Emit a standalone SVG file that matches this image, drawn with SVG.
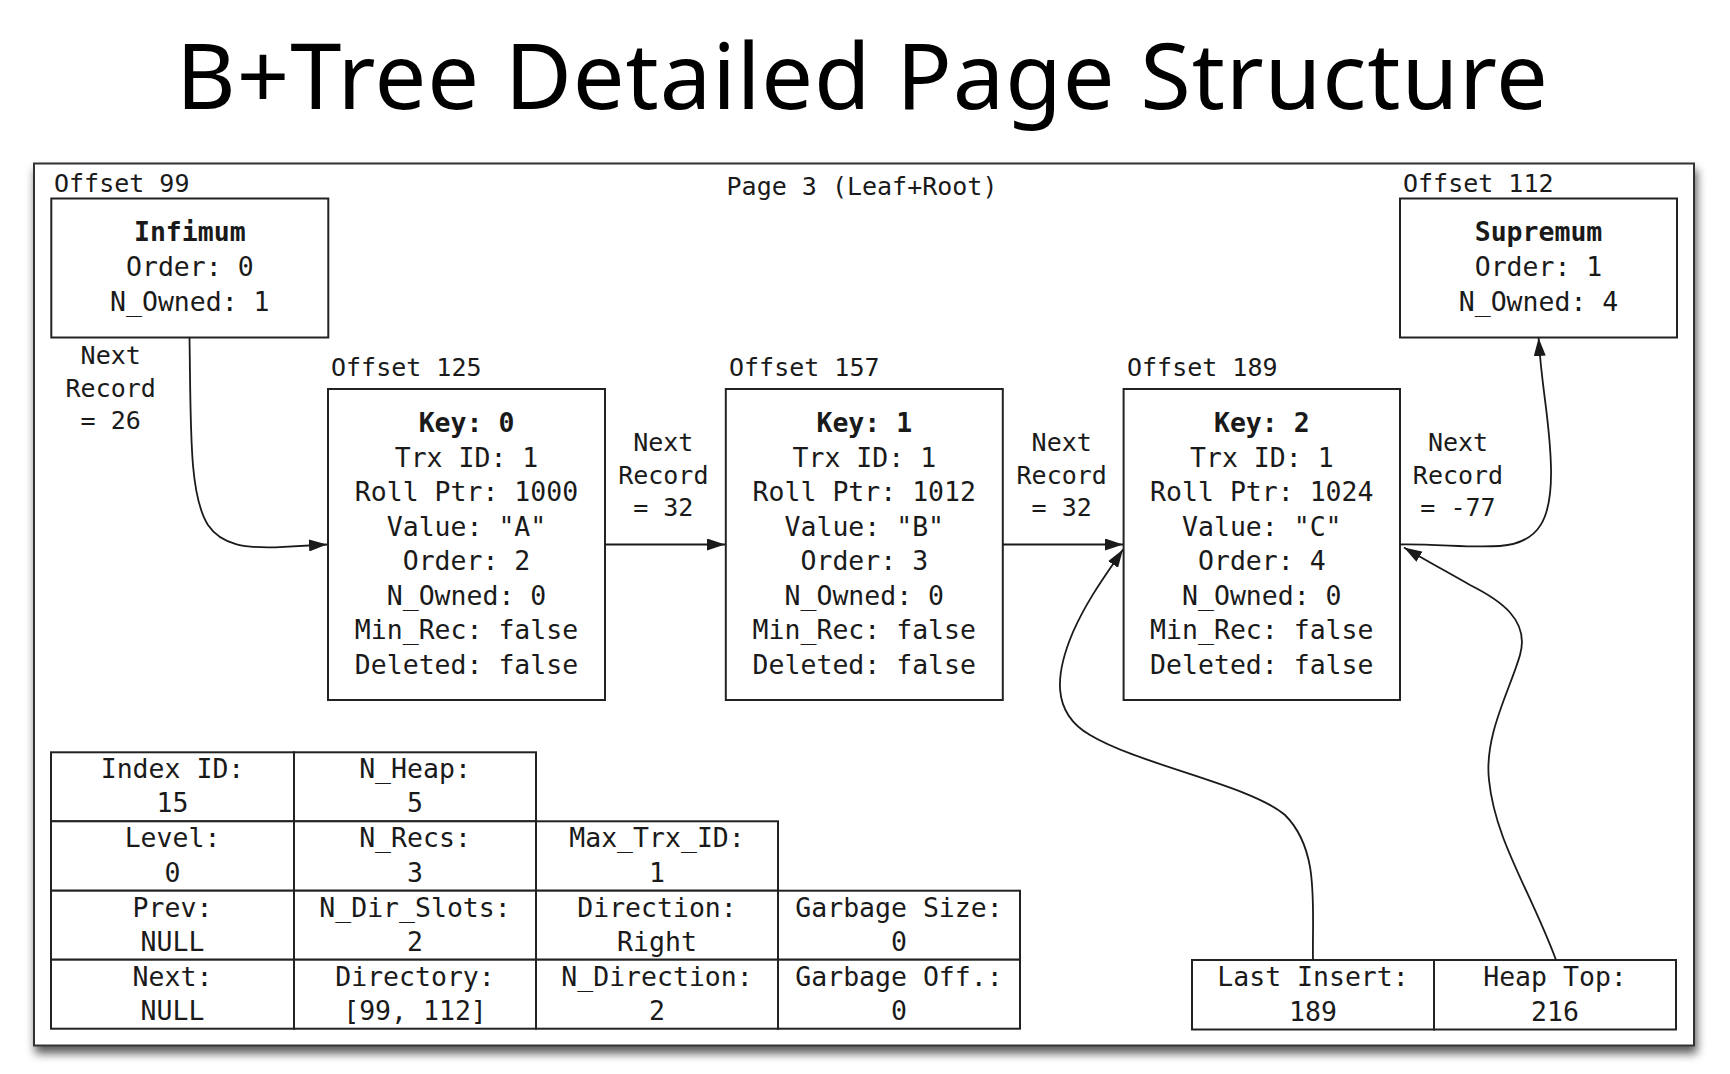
<svg xmlns="http://www.w3.org/2000/svg" width="1730" height="1074" viewBox="0 0 1730 1074">
<style>
.box{fill:#fff;stroke:#222;stroke-width:2}
.cell{fill:#fff;stroke:#222;stroke-width:2}
.t{font-family:"DejaVu Sans Mono","Liberation Mono",monospace;font-size:26.5px;fill:#1a1a1a;text-anchor:middle}
.b{font-weight:bold}
.lbl{font-family:"DejaVu Sans Mono","Liberation Mono",monospace;font-size:25px;fill:#1a1a1a;text-anchor:middle}
.off{font-family:"DejaVu Sans Mono","Liberation Mono",monospace;font-size:25px;fill:#1a1a1a}
.edge{fill:none;stroke:#1a1a1a;stroke-width:1.8}
</style>
<defs>
<marker id="arr" markerUnits="userSpaceOnUse" markerWidth="18" markerHeight="12" refX="18" refY="6" orient="auto">
<path d="M0,0 L18,6 L0,12 z" fill="#1a1a1a"/>
</marker>
<filter id="sh" x="-5%" y="-5%" width="110%" height="115%">
<feDropShadow dx="2" dy="7" stdDeviation="5" flood-color="#000" flood-opacity="0.65"/>
</filter>
</defs>
<rect width="1730" height="1074" fill="#fff"/>
<text x="176" y="108.7" font-family="'Noto Sans','Open Sans','DejaVu Sans',sans-serif" font-size="92" fill="#000" textLength="1372" lengthAdjust="spacing">B+Tree Detailed Page Structure</text>

<g id="page">
<rect x="34" y="163.5" width="1660" height="882" fill="#fff" stroke="#333" stroke-width="2" filter="url(#sh)"/>
<text class="lbl" x="862" y="195">Page 3 (Leaf+Root)</text>
</g>

<g id="infimum">
<text class="off" x="54" y="191.5">Offset 99</text>
<rect class="box" x="51.3" y="198.5" width="277" height="139"/>
<text class="t b" x="189.8" y="241">Infimum</text>
<text class="t" x="189.8" y="276">Order: 0</text>
<text class="t" x="189.8" y="311">N_Owned: 1</text>
</g>

<g id="supremum">
<text class="off" x="1403" y="191.5">Offset 112</text>
<rect class="box" x="1400" y="198.5" width="277" height="139"/>
<text class="t b" x="1538.5" y="241">Supremum</text>
<text class="t" x="1538.5" y="276">Order: 1</text>
<text class="t" x="1538.5" y="311">N_Owned: 4</text>
</g>

<g id="rec0">
<text class="off" x="331" y="376">Offset 125</text>
<rect class="box" x="328" y="389" width="277" height="311"/>
<text class="t b" x="466.5" y="432">Key: 0</text>
<text class="t" x="466.5" y="466.5">Trx ID: 1</text>
<text class="t" x="466.5" y="501">Roll Ptr: 1000</text>
<text class="t" x="466.5" y="535.5">Value: "A"</text>
<text class="t" x="466.5" y="570">Order: 2</text>
<text class="t" x="466.5" y="604.5">N_Owned: 0</text>
<text class="t" x="466.5" y="639">Min_Rec: false</text>
<text class="t" x="466.5" y="673.5">Deleted: false</text>
</g>

<g id="rec1">
<text class="off" x="729" y="376">Offset 157</text>
<rect class="box" x="725.8" y="389" width="277" height="311"/>
<text class="t b" x="864.3" y="432">Key: 1</text>
<text class="t" x="864.3" y="466.5">Trx ID: 1</text>
<text class="t" x="864.3" y="501">Roll Ptr: 1012</text>
<text class="t" x="864.3" y="535.5">Value: "B"</text>
<text class="t" x="864.3" y="570">Order: 3</text>
<text class="t" x="864.3" y="604.5">N_Owned: 0</text>
<text class="t" x="864.3" y="639">Min_Rec: false</text>
<text class="t" x="864.3" y="673.5">Deleted: false</text>
</g>

<g id="rec2">
<text class="off" x="1127" y="376">Offset 189</text>
<rect class="box" x="1123.6" y="389" width="276.4" height="311"/>
<text class="t b" x="1261.8" y="432">Key: 2</text>
<text class="t" x="1261.8" y="466.5">Trx ID: 1</text>
<text class="t" x="1261.8" y="501">Roll Ptr: 1024</text>
<text class="t" x="1261.8" y="535.5">Value: "C"</text>
<text class="t" x="1261.8" y="570">Order: 4</text>
<text class="t" x="1261.8" y="604.5">N_Owned: 0</text>
<text class="t" x="1261.8" y="639">Min_Rec: false</text>
<text class="t" x="1261.8" y="673.5">Deleted: false</text>
</g>

<g id="header">
<rect class="cell" x="51" y="752.3" width="243" height="69"/>
<rect class="cell" x="294" y="752.3" width="242" height="69"/>
<rect class="cell" x="51" y="821.3" width="243" height="69.4"/>
<rect class="cell" x="294" y="821.3" width="242" height="69.4"/>
<rect class="cell" x="536" y="821.3" width="242" height="69.4"/>
<rect class="cell" x="51" y="890.7" width="243" height="69"/>
<rect class="cell" x="294" y="890.7" width="242" height="69"/>
<rect class="cell" x="536" y="890.7" width="242" height="69"/>
<rect class="cell" x="778" y="890.7" width="242" height="69"/>
<rect class="cell" x="51" y="959.7" width="243" height="69"/>
<rect class="cell" x="294" y="959.7" width="242" height="69"/>
<rect class="cell" x="536" y="959.7" width="242" height="69"/>
<rect class="cell" x="778" y="959.7" width="242" height="69"/>
<text class="t" x="172.5" y="778.3">Index ID:</text>
<text class="t" x="172.5" y="812.3">15</text>
<text class="t" x="415" y="778.3">N_Heap:</text>
<text class="t" x="415" y="812.3">5</text>
<text class="t" x="172.5" y="847.3">Level:</text>
<text class="t" x="172.5" y="881.5">0</text>
<text class="t" x="415" y="847.3">N_Recs:</text>
<text class="t" x="415" y="881.5">3</text>
<text class="t" x="657" y="847.3">Max_Trx_ID:</text>
<text class="t" x="657" y="881.5">1</text>
<text class="t" x="172.5" y="916.7">Prev:</text>
<text class="t" x="172.5" y="950.7">NULL</text>
<text class="t" x="415" y="916.7">N_Dir_Slots:</text>
<text class="t" x="415" y="950.7">2</text>
<text class="t" x="657" y="916.7">Direction:</text>
<text class="t" x="657" y="950.7">Right</text>
<text class="t" x="899" y="916.7">Garbage Size:</text>
<text class="t" x="899" y="950.7">0</text>
<text class="t" x="172.5" y="985.7">Next:</text>
<text class="t" x="172.5" y="1019.7">NULL</text>
<text class="t" x="415" y="985.7">Directory:</text>
<text class="t" x="415" y="1019.7">[99, 112]</text>
<text class="t" x="657" y="985.7">N_Direction:</text>
<text class="t" x="657" y="1019.7">2</text>
<text class="t" x="899" y="985.7">Garbage Off.:</text>
<text class="t" x="899" y="1019.7">0</text>
</g>

<g id="pointers">
<rect class="cell" x="1192" y="960" width="242" height="69.5"/>
<rect class="cell" x="1434" y="960" width="242" height="69.5"/>
<text class="t" x="1313" y="985.7">Last Insert:</text>
<text class="t" x="1313" y="1020.5">189</text>
<text class="t" x="1555" y="985.7">Heap Top:</text>
<text class="t" x="1555" y="1020.5">216</text>
</g>

<g id="connectors">
<path class="edge" marker-end="url(#arr)" d="M189.5,337.5 C191,430 189,495 208,525 C222,546 248,548 275,547.3 L327,544.5"/>
<path class="edge" marker-end="url(#arr)" d="M605,544.5 H725"/>
<path class="edge" marker-end="url(#arr)" d="M1002.8,544.5 H1123"/>
<path class="edge" marker-end="url(#arr)" d="M1400,544.5 C1440,544 1470,548 1500,546 C1540,543 1552,518 1551,468 C1550,420 1542,392 1538.6,338"/>
<path class="edge" marker-end="url(#arr)" d="M1313,960 C1312,905 1320,850 1285,815 C1250,785 1140,765 1090,735 C1050,712 1056,672 1073,632 C1088,598 1108,572 1123,549.5"/>
<path class="edge" marker-end="url(#arr)" d="M1556,960 C1530,890 1495,840 1489,780 C1484,735 1510,690 1520,655 C1530,620 1500,600 1470,585 C1440,568 1420,557 1404,547.5"/>
<text class="lbl" x="110.7" y="364.3">Next</text>
<text class="lbl" x="110.7" y="396.7">Record</text>
<text class="lbl" x="110.7" y="429.3">= 26</text>
<text class="lbl" x="663.3" y="451">Next</text>
<text class="lbl" x="663.3" y="483.5">Record</text>
<text class="lbl" x="663.3" y="515.8">= 32</text>
<text class="lbl" x="1061.7" y="451">Next</text>
<text class="lbl" x="1061.7" y="483.5">Record</text>
<text class="lbl" x="1061.7" y="515.8">= 32</text>
<text class="lbl" x="1458" y="451">Next</text>
<text class="lbl" x="1458" y="483.5">Record</text>
<text class="lbl" x="1458" y="515.8">= -77</text>
</g>
</svg>
